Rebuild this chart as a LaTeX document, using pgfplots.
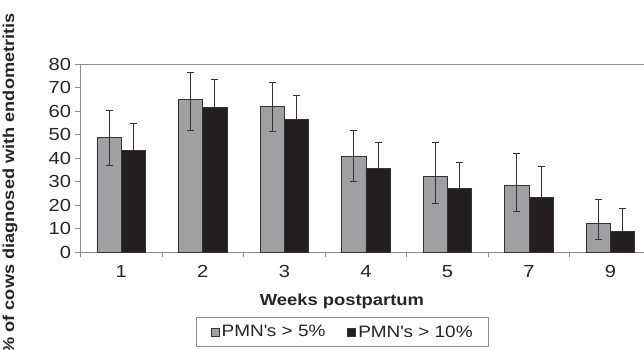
\documentclass[border=0pt]{standalone}
\usepackage{fontspec}
\setmainfont{Liberation Sans}[FakeStretch=1.15]
\usepackage{pgfplots}
\pgfplotsset{compat=1.18}
\definecolor{bargray}{HTML}{A0A0A3}
\definecolor{barblack}{HTML}{231F20}
\definecolor{edge}{HTML}{333333}
\definecolor{axgray}{HTML}{8C8C8C}
\begin{document}
\begin{tikzpicture}[x=1pt,y=1pt]
\path[use as bounding box] (-80.5,-97) rectangle (563.5,252);
\clip (-80.5,-97) rectangle (563.5,252);
\begin{axis}[
  at={(0,0)}, anchor=south west, scale only axis,
  width=563.5pt, height=188pt,
  xmin=-0.5, xmax=6.41, ymin=0, ymax=80,
  ybar=0pt, bar width=24.3pt,
  axis x line*=bottom, axis y line*=left,
  axis line style={axgray, line width=0.8pt},
  tick align=outside,
  xtick={0,...,6}, xticklabels={1,2,3,4,5,7,9},
  major x tick style={draw=none},
  extra x ticks={-0.5,0.5,1.5,2.5,3.5,4.5,5.5},
  extra x tick labels={},
  extra x tick style={major tick length=5pt, major x tick style={draw=axgray, line width=0.8pt}},
  ytick={0,10,...,80},
  major y tick style={draw=axgray, line width=0.8pt},
  major tick length=5pt,
  /pgf/number format/assume math mode=true,
  ticklabel style={font=\fontsize{17.5}{19}\selectfont, text=black!85},
  yticklabel style={xshift=-1pt},
  xticklabel style={yshift=-5pt},
  xlabel={Weeks postpartum},
  xlabel style={font=\bfseries\fontsize{16}{18}\selectfont, at={(axis description cs:0.464,-0.2606)}, anchor=center, inner sep=0pt, text=black!85},
  ylabel={\% of cows diagnosed with endometritis},
  ylabel style={font=\bfseries\fontsize{15.8}{18}\selectfont, at={(axis description cs:-0.1251,1.271)}, anchor=east, inner sep=0pt, text=black!85},
  legend columns=2,
  legend style={at={(axis description cs:0.4654,-0.4255)}, anchor=center, draw=axgray, line width=0.8pt,
    font=\fontsize{16.5}{19}\selectfont, text=black!85, inner xsep=14pt, inner ysep=6pt,
    /tikz/every even column/.append style={column sep=20pt}},
  legend image code/.code={\draw[#1, draw=edge, line width=0.8pt] (0pt,-4pt) rectangle (8pt,4pt);},
  error bars/error bar style={edge, line width=1pt},
  error bars/error mark options={rotate=90, mark size=3.5pt, edge, line width=1pt},
]
\draw[axgray, line width=0.8pt] (rel axis cs:0,1) -- (rel axis cs:1,1);
\addplot[fill=bargray, draw=edge, line width=0.8pt,
  error bars/.cd, y dir=both, y explicit]
  table[x=x, y=y, y error plus=ep, y error minus=em] {
x y ep em
0 48.7 11.7 12.0
1 65.0 11.5 13.2
2 62.1 10.0 11.0
3 40.6 11.3 10.5
4 32.3 14.5 11.7
5 28.5 13.3 11.1
6 12.1 10.3 6.6
};
\addplot[fill=barblack, draw=edge, line width=0.8pt,
  error bars/.cd, y dir=plus, y explicit]
  table[x=x, y=y, y error plus=ep] {
x y ep
0 43.1 11.7
1 61.6 11.9
2 56.3 10.5
3 35.5 11.3
4 27.0 11.3
5 23.3 13.2
6 8.9 9.7
};
\legend{PMN\textquotesingle s > 5\%, PMN\textquotesingle s > 10\%}
\end{axis}
\end{tikzpicture}
\end{document}
